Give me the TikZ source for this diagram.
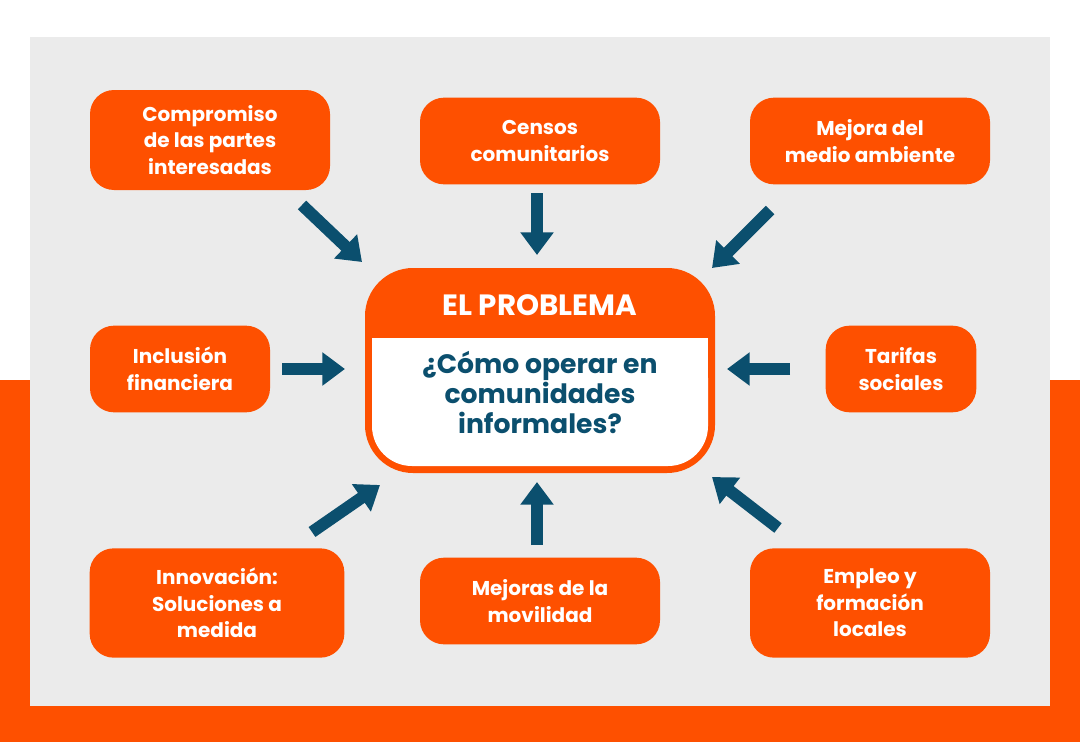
\documentclass[tikz,border=0pt]{standalone}
\usepackage{fontspec}
\setmainfont{Poppins}
\usetikzlibrary{arrows.meta}
\definecolor{org}{HTML}{FE5000}
\definecolor{gry}{HTML}{EBEBEB}
\definecolor{blu}{HTML}{0B4F6E}
\tikzset{
 box/.style={fill=org,rounded corners=18pt,font=\fontsize{15}{20}\selectfont\bfseries,text=white,align=center,inner sep=0},
 arr/.style={blu,line width=9pt,-{Triangle[width=24pt,length=17pt]}}
}
\begin{document}
\begin{tikzpicture}[x=0.75pt,y=-0.75pt]
\useasboundingbox (0,0) rectangle (1080,742);
\fill[white] (0,0) rectangle (1080,742);
\fill[org] (0,380) rectangle (1080,742);
\fill[gry] (30,37) rectangle (1050,706);
% boxes
\node[box,minimum width=180pt,minimum height=75pt] (b1) at (210,140) {Compromiso\\de las partes\\interesadas};
\node[box,minimum width=180pt,minimum height=65pt] (b2) at (540,141) {Censos\\comunitarios};
\node[box,minimum width=180pt,minimum height=65pt] (b3) at (870,141) {Mejora del\\medio ambiente};
\node[box,minimum width=135pt,minimum height=65pt] (b4) at (180,369) {Inclusión\\financiera};
\node[box,minimum width=113pt,minimum height=65pt] (b5) at (901,369) {Tarifas\\sociales};
\node[box,minimum width=191pt,minimum height=82pt] (b6) at (217,603) {Innovación:\\Soluciones a\\medida};
\node[box,minimum width=180pt,minimum height=65pt] (b7) at (540,601) {Mejoras de la\\movilidad};
\node[box,minimum width=180pt,minimum height=82pt] (b8) at (870,603) {Empleo y\\formación\\locales};
% center
\fill[org,rounded corners=36pt] (365,268) rectangle (715,473);
\fill[white,rounded corners=30pt] (372,338) rectangle (708,466);
\fill[white] (372,338) rectangle (708,380);
\node[font=\fontsize{22}{26}\selectfont\bfseries,text=white] (t) at (540,305) {EL PROBLEMA};
\node[font=\fontsize{20}{22.5}\selectfont\bfseries,text=blu,align=center] (q) at (540,392) {¿Cómo operar en\\comunidades\\informales?};
% arrows
\coordinate (a1) at (302,205); \coordinate (e1) at (362,262);
\coordinate (a2) at (537,193); \coordinate (e2) at (537,255);
\coordinate (a3) at (770,210); \coordinate (e3) at (712,268);
\coordinate (a4) at (282,369); \coordinate (e4) at (345,369);
\coordinate (a5) at (790,369); \coordinate (e5) at (727,369);
\coordinate (a6) at (312,532); \coordinate (e6) at (380,485);
\coordinate (a7) at (537,545); \coordinate (e7) at (537,482);
\coordinate (a8) at (778,528); \coordinate (e8) at (712,477);
\foreach \i in {1,...,8} \draw[arr] (a\i) -- (e\i);
\end{tikzpicture}
\end{document}
